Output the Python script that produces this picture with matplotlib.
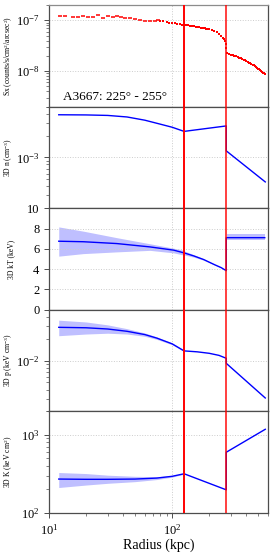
import numpy as np
import matplotlib
matplotlib.use("Agg")
import matplotlib.pyplot as plt
from matplotlib.ticker import LogLocator, NullFormatter, MultipleLocator

plt.rcParams['font.family'] = ['Liberation Serif', 'DejaVu Serif']
plt.rcParams['mathtext.fontset'] = 'custom'
plt.rcParams['mathtext.rm'] = 'Liberation Serif'
plt.rcParams['mathtext.it'] = 'Liberation Serif:italic'
plt.rcParams['mathtext.bf'] = 'Liberation Serif:bold'

# ---------------- data ----------------
# surface brightness profile (inner, sparsely binned)
sx_r_in = [12.3, 13.5, 15.6, 17.1, 18.8, 20.6, 22.7, 25.2, 27.6, 30.3, 33.0, 35.5, 38.3,
           41.5, 45.6, 50.0, 54.9, 60.3, 66.3, 72.8, 77.4]
sx_v_in = [12.4, 12.0, 11.7, 11.85, 12.4, 11.85, 11.5, 12.98, 11.15, 12.0, 11.5, 12.0, 11.5,
           11.15, 10.98, 10.81, 10.33, 9.87, 9.56, 9.87, 10.01]  # units of 1e-8
# surface brightness profile (outer, densely binned)
sx_r = [80, 85, 90, 95, 100, 105, 110, 115, 120, 125, 130, 135, 140, 145, 150, 155,
        160, 165, 170, 175, 180, 185, 190, 195, 200,
        210, 220, 230, 240, 250, 260, 265, 270, 273, 276, 280, 290, 300, 310, 320,
        330, 340, 350, 360, 370, 380, 390, 400, 410, 420, 430, 440, 450, 460, 470,
        480, 490, 500, 510, 520, 530, 540, 550, 560, 570]
sx_v = [9.8, 9.6, 9.3, 9.0, 8.9, 8.7, 8.6, 8.4, 8.2, 8.0, 7.9, 7.9, 7.7, 7.6, 7.6, 7.5,
        7.3, 7.3, 7.2, 7.1, 7.0, 6.9, 6.8, 6.8, 6.7,
        6.4, 6.2, 5.9, 5.4, 4.9, 4.5, 4.2, 3.9, 3.4, 2.8, 2.3, 2.2, 2.1, 2.05, 2.0,
        1.95, 1.9, 1.85, 1.78, 1.72, 1.68, 1.62, 1.56, 1.52, 1.47, 1.43, 1.38, 1.33, 1.29, 1.24,
        1.2, 1.16, 1.12, 1.08, 1.04, 1.0, 0.97, 0.93, 0.9, 0.86]  # units of 1e-8

# 3D density model
n_r_in = [12, 20, 30, 43, 60, 75, 100, 125]
n_in = [3.86e-3, 3.84e-3, 3.78e-3, 3.6e-3, 3.25e-3, 2.95e-3, 2.6e-3, 2.28e-3]
n_r_mid = [125, 275]
n_mid = [2.28e-3, 2.71e-3]
n_r_out = [275, 570]
n_out = [1.23e-3, 4.6e-4]

# 3D temperature
t_r_in = [12, 19, 35.5, 66, 103, 125]
t_in = [6.75, 6.70, 6.52, 6.19, 5.87, 5.6]
t_in_hi = [8.16, 7.74, 7.1, 6.5, 6.06, 5.85]
t_in_lo = [5.28, 5.53, 5.70, 5.85, 5.6, 5.38]
t_r_mid = [125, 150, 180, 220, 250, 275]
t_mid = [5.6, 5.3, 4.95, 4.45, 4.15, 3.85]
t_mid_hi = [5.8, 5.42, 5.02, 4.48, 4.17, 3.86]
t_mid_lo = [5.4, 5.18, 4.88, 4.42, 4.13, 3.84]
t_r_out = [278, 565]
t_out = [7.1, 7.1]
t_out_hi = [7.44, 7.44]
t_out_lo = [6.85, 6.85]

# 3D pressure
p_r_in = [12, 20, 30, 43, 60, 75, 100, 125]
p_in = [0.0287, 0.0283, 0.0272, 0.0253, 0.0228, 0.0204, 0.0170, 0.0136]
p_in_hi = [0.0360, 0.034, 0.031, 0.0275, 0.024, 0.0212, 0.0175, 0.0139]
p_in_lo = [0.0220, 0.0232, 0.0238, 0.0232, 0.0216, 0.0196, 0.0165, 0.0133]
p_r_mid = [125, 160, 200, 240, 275]
p_mid = [0.0136, 0.0132, 0.0126, 0.0118, 0.01076]
p_r_out = [275, 570]
p_out = [0.00917, 0.00306]

# 3D entropy
k_r_in = [12, 20, 30, 50, 75, 100, 125]
k_in = [272, 270, 270, 272, 280, 295, 318]
k_in_hi = [330, 320, 305, 295, 292, 302, 322]
k_in_lo = [212, 228, 240, 252, 268, 288, 314]
k_r_mid = [125, 275]
k_mid = [318, 198]
k_r_out = [275, 570]
k_out = [600, 1180]

edges = [125, 275]
ylabels = ["Sx (counts/s/cm$^2$/arcsec$^2$)", "3D n (cm$^{-3}$)", "3D kT (keV)",
           "3D p (keV cm$^{-3}$)", "3D K (keV cm$^2$)"]

# ---------------- figure ----------------
fig = plt.figure(figsize=(2.73, 5.55), dpi=100)
axes = fig.subplots(5, 1, sharex=True)
fig.subplots_adjust(left=49/273, right=268/273, top=1-5/555, bottom=1-513/555, hspace=0)

blue = 'blue'
for ax in axes:
    ax.set_xscale('log')
    ax.set_xlim(10, 600)
    for s in ax.spines.values():
        s.set_color('0.3')
        s.set_linewidth(0.9)
    ax.tick_params(which='major', length=3.5, width=0.7, labelsize=9, color='0.3', direction='out')
    ax.tick_params(which='minor', length=2, width=0.5, color='0.3', direction='out')
    ax.grid(True, which='major', color='0.8', ls=':', lw=0.7)
    ax.axvline(edges[0], color='red', lw=1.4, zorder=5)
    ax.axvline(edges[1], color='red', lw=1.4, alpha=0.75, zorder=5)
axes[0].spines['top'].set_color('0.55')

# Sx
ax = axes[0]
ax.set_yscale('log')
ax.plot(sx_r_in, np.array(sx_v_in) * 1e-8, ls='none', marker='_', ms=3.2, mew=1.1, color='red')
ax.plot(sx_r, np.array(sx_v) * 1e-8, ls='none', marker='s', ms=2.0, color='red', mew=0)
ax.set_ylim(2e-9, 2e-7)
ax.text(0.064, 0.094, "A3667: 225° - 255°", transform=ax.transAxes, fontsize=9.5,
        va='center', ha='left')

# n
ax = axes[1]
ax.set_yscale('log')
ax.plot(n_r_in + n_r_mid[1:] + n_r_out, n_in + n_mid[1:] + n_out, color=blue, lw=1)
ax.set_ylim(2e-4, 5e-3)

# kT
ax = axes[2]
ax.fill_between(t_r_in, t_in_lo, t_in_hi, color=blue, alpha=0.25, lw=0)
ax.fill_between(t_r_mid, t_mid_lo, t_mid_hi, color=blue, alpha=0.25, lw=0)
ax.fill_between(t_r_out, t_out_lo, t_out_hi, color=blue, alpha=0.25, lw=0)
ax.plot(t_r_in + t_r_mid[1:] + [275] + t_r_out, t_in + t_mid[1:] + [t_out[0]] + t_out,
        color=blue, lw=1)
ax.set_ylim(0, 10)
ax.yaxis.set_major_locator(MultipleLocator(2))

# p
ax = axes[3]
ax.set_yscale('log')
ax.fill_between(p_r_in, p_in_lo, p_in_hi, color=blue, alpha=0.25, lw=0)
ax.plot(p_r_in + p_r_mid[1:] + p_r_out, p_in + p_mid[1:] + p_out, color=blue, lw=1)
ax.set_ylim(2e-3, 5e-2)

# K
ax = axes[4]
ax.set_yscale('log')
ax.fill_between(k_r_in, k_in_lo, k_in_hi, color=blue, alpha=0.25, lw=0)
ax.plot(k_r_in + k_r_mid[1:] + k_r_out, k_in + k_mid[1:] + k_out, color=blue, lw=1)
ax.set_ylim(100, 2000)
ax.set_xlabel("Radius (kpc)", fontsize=10, labelpad=1)

for i, ax in enumerate(axes):
    if ax.get_yscale() == 'log':
        ax.yaxis.set_minor_formatter(NullFormatter())
        ax.yaxis.set_minor_locator(LogLocator(base=10, subs=np.arange(2, 10)))
    ax.set_ylabel(ylabels[i], fontsize=5.5)
    ax.yaxis.set_label_coords(-0.155, 0.5)
axes[4].xaxis.set_minor_formatter(NullFormatter())

fig.savefig("out.png", dpi=100)
